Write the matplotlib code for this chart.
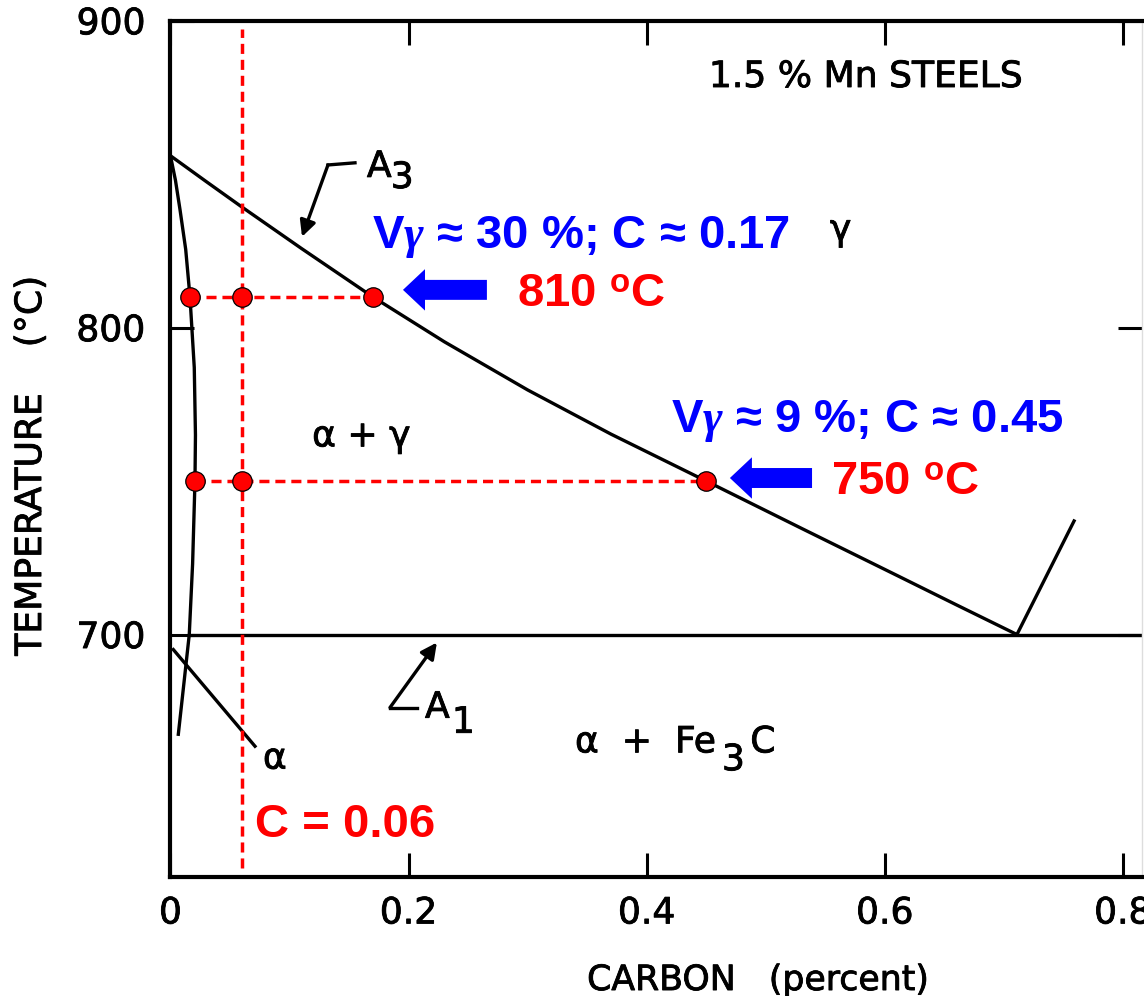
import numpy as np
import matplotlib.pyplot as plt
import matplotlib.patheffects as pe

plt.rcParams['font.family'] = ['DejaVu Sans']
plt.rcParams['mathtext.fontset'] = 'custom'
plt.rcParams['mathtext.rm'] = 'DejaVu Sans'
plt.rcParams['mathtext.it'] = 'Liberation Serif:bold:italic'
plt.rcParams['mathtext.bf'] = 'Liberation Sans:bold'

# phase boundaries of the 1.5 % Mn steel (carbon in wt %, temperature in degC)
a3_c = [0, 0.03, 0.06, 0.11, 0.17, 0.23, 0.30, 0.37, 0.45, 0.53, 0.61, 0.66, 0.711]
a3_t = [856, 847.6, 839.3, 825.8, 810, 795.4, 779.7, 765.3, 750, 734.6, 719.3, 709.7, 700]
ferrite_c = [0, 0.0042, 0.0080, 0.0128, 0.0164, 0.0200, 0.0210, 0.0206, 0.0186, 0.0158, 0.0066]
ferrite_t = [856, 848, 838.5, 825.5, 810, 787, 765, 750, 723, 700, 667.5]
acm_c = [0.711, 0.759]
acm_t = [700, 737]
a1_temp = 700
a1_c = [0.0158, 0.82]

# intercritical annealing of a 0.06 C steel
alloy_c = 0.06
hold_t = [810, 750]
alpha_c = [0.0164, 0.0206]
gamma_c = [0.17, 0.45]
gamma_vol = [30, 9]

x_ticks = [0, 0.2, 0.4, 0.6, 0.8]
x_labels = ['0', '0.2', '0.4', '0.6', '0.8']
y_ticks = [700, 800, 900]

fig = plt.figure(figsize=(11.44, 9.96), dpi=100)
ax = fig.add_axes([0.149, 0.1195, 0.8492, 0.8597])
ax.set_xlim(0, 0.816)
ax.set_ylim(621, 900)

lw = 2.4
ax.plot(a3_c, a3_t, color='black', lw=lw)
ax.plot(ferrite_c, ferrite_t, color='black', lw=lw)
ax.plot(acm_c, acm_t, color='black', lw=lw)
ax.plot(a1_c, [a1_temp, a1_temp], color='black', lw=lw)

# pointer lines for the A3 / A1 / alpha labels
ax.plot([0.155, 0.1323], [853.7, 853.0], color='black', lw=lw)
ax.annotate('', xy=(0.1105, 829.6), xytext=(0.1323, 853.0),
            arrowprops=dict(arrowstyle='-|>', color='black', lw=lw, mutation_scale=24,
                            shrinkA=0, shrinkB=0))
ax.plot([0.207, 0.1844], [676.2, 676.2], color='black', lw=lw)
ax.annotate('', xy=(0.2238, 697.4), xytext=(0.1844, 676.2),
            arrowprops=dict(arrowstyle='-|>', color='black', lw=lw, mutation_scale=24,
                            shrinkA=0, shrinkB=0))
ax.plot([0.0024, 0.071], [695.1, 663.6], color='black', lw=lw)

# black lettering, thickened a little with a stroke
ink = [pe.withStroke(linewidth=0.6, foreground='black')]
lab = dict(fontsize=26, color='black', path_effects=ink)
ax.text(0.584, 878.4, '1.5 % Mn STEELS', ha='center', va='baseline', **lab)
ax.text(0.563, 831.8, 'γ', ha='center', va='center', **lab)
ax.text(0.119, 761.3, 'α + γ', ha='left', va='baseline', **lab)
ax.text(0.3398, 661.6, 'α  +  Fe', ha='left', va='baseline', **lab)
ax.text(0.4632, 655.8, '3', ha='left', va='baseline', **lab)
ax.text(0.487, 661.6, 'C', ha='left', va='baseline', **lab)
ax.text(0.0777, 656.3, 'α', ha='left', va='baseline', **lab)
ax.text(0.165, 849.1, 'A', ha='left', va='baseline', **lab)
ax.text(0.185, 845.5, '3', ha='left', va='baseline', **lab)
ax.text(0.2138, 672.9, 'A', ha='left', va='baseline', **lab)
ax.text(0.2364, 668.0, '1', ha='left', va='baseline', **lab)

# alloy line, tie lines and intersection points
red_dash = dict(color='red', lw=2.5, dashes=(2.9, 1.7))
ax.axvline(alloy_c, ymin=0.01, ymax=0.99, **red_dash)
for t, ca, cg in zip(hold_t, alpha_c, gamma_c):
    ax.plot([ca, cg], [t, t], **red_dash)
    ax.plot([ca, alloy_c, cg], [t, t, t], ls='none', marker='o', ms=14,
            mfc='red', mec='black', mew=0.9)

big = dict(fontsize=34, fontweight='bold', family=['Liberation Sans', 'DejaVu Sans'])
text_x = [0.1692, 0.4204]
text_t = [826.0, 766.1]
temp_x = [0.2910, 0.5548]
temp_t = [806.5, 745.3]
arrow_tail = [0.2658, 0.5389]
arrow_tip = [0.1953, 0.4699]
arrow_t = [812.3, 751.0]
for i, t in enumerate(hold_t):
    ax.text(text_x[i], text_t[i],
            r'V$\gamma$' + f' ≈ {gamma_vol[i]} %; C ≈ {gamma_c[i]:.2f}',
            color='blue', ha='left', va='baseline', **big)
    ax.text(temp_x[i], temp_t[i], f'{t} ' + r'$^{\mathbf{o}}$' + 'C',
            color='red', ha='left', va='baseline', **big)
    ax.arrow(arrow_tail[i], arrow_t[i], arrow_tip[i] - arrow_tail[i], 0,
             width=6.5, head_width=13.5, head_length=0.0185,
             length_includes_head=True, color='blue', lw=0)
ax.text(0.0710, 633.9, f'C = {alloy_c:.2f}', color='red', ha='left', va='baseline', **big)

ax.set_xticks(x_ticks)
ax.set_xticklabels(x_labels)
ax.set_yticks(y_ticks)
ax.tick_params(direction='in', length=17, width=2.2, labelsize=26,
               top=True, right=True, colors='black')
ax.tick_params(axis='x', pad=14)
ax.tick_params(axis='y', pad=18)
for lbl in ax.get_xticklabels() + ax.get_yticklabels():
    lbl.set_path_effects(ink)
for side in ['left', 'bottom', 'top']:
    ax.spines[side].set_linewidth(3)
ax.spines['right'].set_linewidth(1)
ax.spines['right'].set_color('#dddddd')

ax.set_xlabel('CARBON   (percent)', fontsize=25, path_effects=ink)
ax.xaxis.set_label_coords(0.605, -0.1005)
ax.set_ylabel('TEMPERATURE    (°C)', fontsize=26, path_effects=ink)
ax.yaxis.set_label_coords(-0.126, 0.48)

fig.savefig('out.png', dpi=100)
